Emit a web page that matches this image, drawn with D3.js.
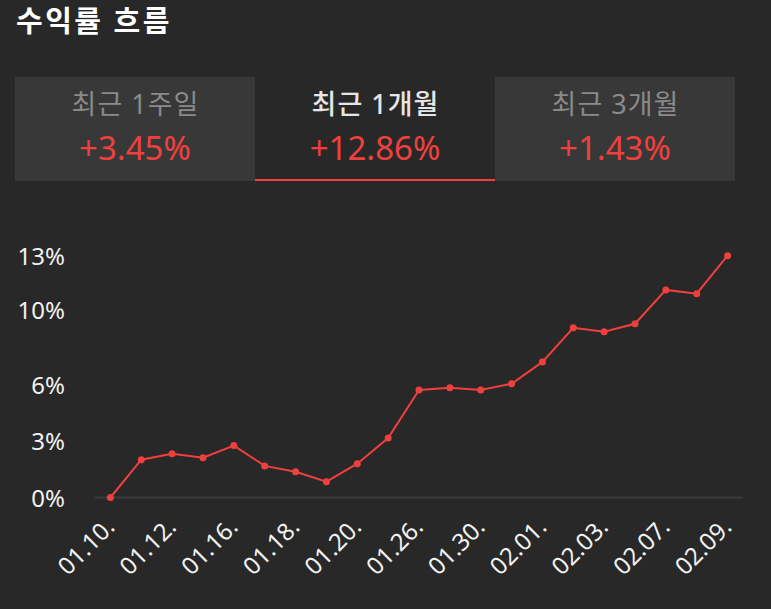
<!DOCTYPE html>
<html>
<head>
<meta charset="utf-8">
<script src="https://cdn.jsdelivr.net/npm/d3@7"></script>
<style>
  html, body { margin: 0; padding: 0; background: #282828; }
  svg { display: block; }
  text { font-family: "Noto Sans", "Noto Sans CJK KR", sans-serif; }
</style>
</head>
<body>
<svg id="chart" width="771" height="609"></svg>
<script>
const title = "수익률 흐름";
const tabLabels = ["최근 1주일", "최근 1개월", "최근 3개월"];
const tabValues = ["+3.45%", "+12.86%", "+1.43%"];
const activeTab = 1;

const dates = ["01.10.", "01.11.", "01.12.", "01.13.", "01.16.", "01.17.", "01.18.", "01.19.", "01.20.", "01.25.",
               "01.26.", "01.27.", "01.30.", "01.31.", "02.01.", "02.02.", "02.03.", "02.06.", "02.07.", "02.08.", "02.09."];
const returns = [0, 2.01, 2.33, 2.12, 2.76, 1.68, 1.37, 0.84, 1.80, 3.16,
                 5.72, 5.84, 5.72, 6.05, 7.21, 9.03, 8.82, 9.24, 11.04, 10.84, 12.86];
const xTickLabels = ["01.10.", "01.12.", "01.16.", "01.18.", "01.20.", "01.26.", "01.30.", "02.01.", "02.03.", "02.07.", "02.09."];
const yTickValues = [0, 3, 6, 10, 12.86];
const yTickLabels = ["0%", "3%", "6%", "10%", "13%"];

const svg = d3.select("#chart");
const RED = "#f0403e";
const FONT = "\"Noto Sans\", \"Noto Sans CJK KR\", sans-serif";

// Title
svg.append("text")
  .attr("x", 16).attr("y", 32)
  .attr("fill", "#ffffff")
  .attr("font-size", 29).attr("font-weight", 700)
  .attr("letter-spacing", 2.5)
  .text(title);

// Tabs
const tabX = d3.scaleBand().domain(d3.range(tabLabels.length)).range([15, 735]);
const tabs = svg.append("g").selectAll("g").data(tabLabels).join("g")
  .attr("transform", (d, i) => `translate(${tabX(i)},77)`);
tabs.append("rect")
  .attr("width", tabX.bandwidth()).attr("height", 104)
  .attr("fill", (d, i) => i === activeTab ? "#282828" : "#383838");
tabs.append("text")
  .attr("x", tabX.bandwidth() / 2 + 0.5).attr("y", 37)
  .attr("text-anchor", "middle")
  .attr("font-size", 27)
  .attr("letter-spacing", 1)
  .attr("font-weight", (d, i) => i === activeTab ? 500 : 400)
  .attr("fill", (d, i) => i === activeTab ? "#e6e6e6" : "#8a8a8a")
  .text(d => d);
tabs.append("text")
  .attr("x", tabX.bandwidth() / 2).attr("y", 83)
  .attr("text-anchor", "middle")
  .attr("font-size", 33)
  .attr("fill", RED)
  .text((d, i) => tabValues[i]);
svg.append("rect")
  .attr("x", tabX(activeTab)).attr("y", 179)
  .attr("width", tabX.bandwidth()).attr("height", 2)
  .attr("fill", RED);

// Chart scales
const x = d3.scalePoint().domain(dates).range([95, 743]).padding(0.5);
const y = d3.scaleLinear().domain([0, 12.86]).range([497.5, 255.7]);

// baseline
svg.append("line")
  .attr("x1", 95).attr("x2", 743)
  .attr("y1", y(0)).attr("y2", y(0))
  .attr("stroke", "#3a3a3a").attr("stroke-width", 2);

// y axis labels
const yAxis = d3.axisLeft(y).tickValues(yTickValues).tickSize(0).tickPadding(0)
  .tickFormat((d, i) => yTickLabels[i]);
const gy = svg.append("g").attr("transform", "translate(65,0)").call(yAxis);
gy.select(".domain").remove();
gy.selectAll("text")
  .attr("fill", "#f2f2f2")
  .attr("font-size", 24)
  .attr("font-family", FONT)
  .attr("dy", "0.36em");

// x axis labels
const xAxis = d3.axisBottom(x).tickValues(xTickLabels).tickSize(0).tickPadding(0);
const gx = svg.append("g").attr("transform", `translate(0,${y(0)})`).call(xAxis);
gx.select(".domain").remove();
gx.selectAll("text")
  .attr("fill", "#f2f2f2")
  .attr("font-size", 24)
  .attr("font-family", FONT)
  .attr("text-anchor", "end")
  .attr("y", 0).attr("dy", 0)
  .attr("transform", "translate(5,31) rotate(-45)");

// line
const line = d3.line().x((d, i) => x(dates[i])).y(d => y(d));
svg.append("path")
  .datum(returns)
  .attr("d", line)
  .attr("fill", "none")
  .attr("stroke", RED)
  .attr("stroke-width", 2);

svg.append("g").selectAll("circle").data(returns).join("circle")
  .attr("cx", (d, i) => x(dates[i]))
  .attr("cy", d => y(d))
  .attr("r", 3.5)
  .attr("fill", RED);
</script>
</body>
</html>
